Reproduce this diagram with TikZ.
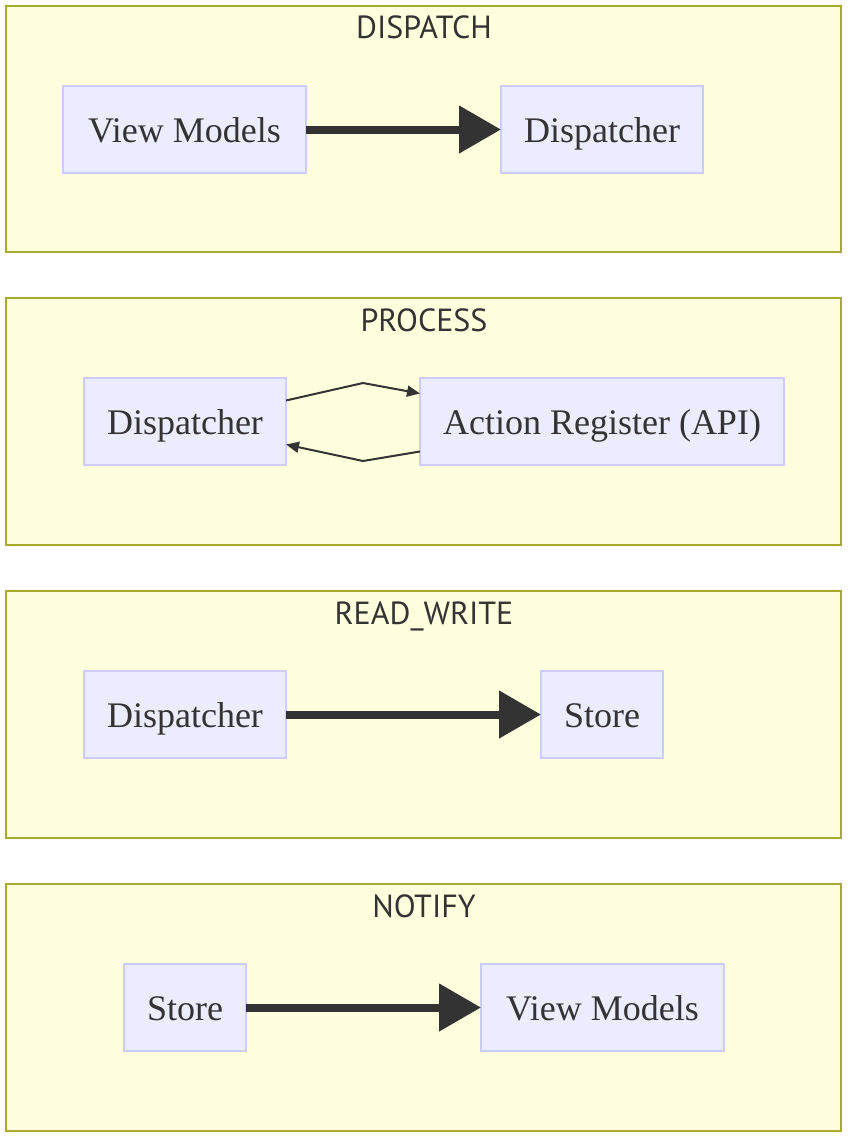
\documentclass[tikz,border=0pt]{standalone}
\usepackage{fontspec}
\setmainfont{Liberation Serif}
\newfontfamily\titlefont{PT Sans}
\usetikzlibrary{arrows.meta}
\definecolor{clfill}{HTML}{FFFFDE}
\definecolor{cldraw}{HTML}{AAAA33}
\definecolor{ndfill}{HTML}{ECECFF}
\definecolor{nddraw}{HTML}{CCCCFF}
\definecolor{ink}{HTML}{333333}
\tikzset{
  cluster/.style={draw=cldraw, fill=clfill, line width=2pt},
  ctitle/.style={text=ink, font=\titlefont\fontsize{32}{36}\selectfont, inner sep=0pt, anchor=base},
  fnode/.style={draw=nddraw, fill=ndfill, line width=2pt, text=ink, font=\fontsize{36}{40}\selectfont, minimum height=87pt, inner sep=0pt, outer sep=0pt, text height=25pt, text depth=0pt},
  thick arrow/.style={draw=ink, line width=8pt, -{Triangle[length=42pt,width=46pt]}},
  thin arrow/.style={draw=ink, line width=2pt, -{Triangle[length=13pt,width=11pt]}}
}
\begin{document}
\begin{tikzpicture}[x=1pt,y=-1pt]
\useasboundingbox (0,0) rectangle (850,1138);
% clusters
\draw[cluster] (6,6) rectangle (841,252);
\node[ctitle] (t1) at (424,38) {DISPATCH};
\draw[cluster] (6,298) rectangle (841,545);
\node[ctitle] (t2) at (424,331) {PROCESS};
\draw[cluster] (6,591) rectangle (841,838);
\node[ctitle] (t3) at (424,624) {READ\_WRITE};
\draw[cluster] (6,884) rectangle (841,1131);
\node[ctitle] (t4) at (424,917) {NOTIFY};
% DISPATCH
\node[fnode, minimum width=243pt] (vm1) at (184.5,129.5) {View Models};
\node[fnode, minimum width=202pt] (dp1) at (602,129.5) {Dispatcher};
\draw[thick arrow] (vm1) -- (dp1);
% PROCESS
\node[fnode, minimum width=202pt] (dp2) at (185,421.5) {Dispatcher};
\node[fnode, minimum width=364pt] (ar) at (602,421.5) {Action Register (API)};
\coordinate (m1) at (363,383);
\coordinate (m2) at (363,461);
\draw[thin arrow] ([yshift=21pt]dp2.east) -- (m1) -- ([yshift=28pt]ar.west);
\draw[thin arrow] ([yshift=-30pt]ar.west) -- (m2) -- ([yshift=-23pt]dp2.east);
% READ_WRITE
\node[fnode, minimum width=202pt] (dp3) at (185,714.5) {Dispatcher};
\node[fnode, minimum width=122pt] (st3) at (602,714.5) {Store};
\draw[thick arrow] (dp3) -- (st3);
% NOTIFY
\node[fnode, minimum width=122pt] (st4) at (185,1007.5) {Store};
\node[fnode, minimum width=243pt] (vm4) at (602.5,1007.5) {View Models};
\draw[thick arrow] (st4) -- (vm4);
\end{tikzpicture}
\end{document}
